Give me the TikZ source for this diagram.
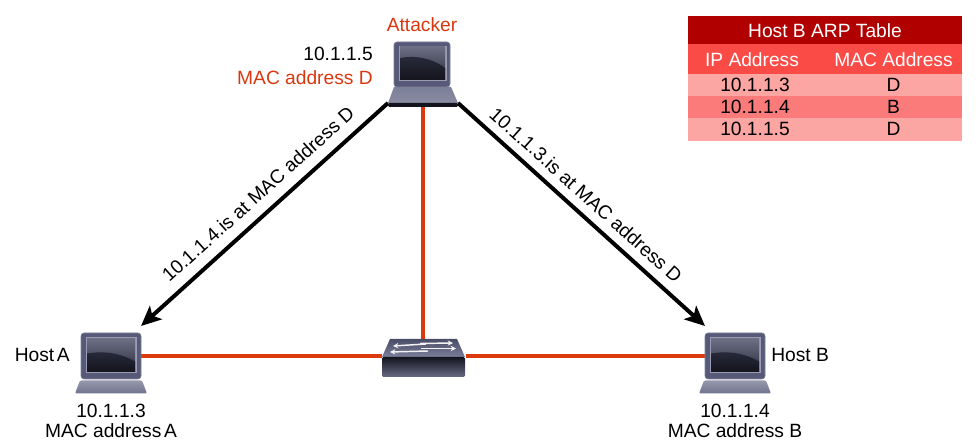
\documentclass[tikz,border=0pt]{standalone}
\usepackage{fontspec}
\setmainfont{Liberation Sans}
\usetikzlibrary{arrows.meta,calc}
\definecolor{wire}{HTML}{DC3A0C}
\definecolor{redtext}{HTML}{D9380F}
\definecolor{devbody}{HTML}{565A78}
\definecolor{devedge}{HTML}{7C7F99}
\definecolor{devlight}{HTML}{9A9CB2}
\definecolor{devdark}{HTML}{14141E}
\definecolor{glasstop}{HTML}{6C6E84}
\definecolor{glassmid}{HTML}{2A2B3C}
\definecolor{rowa}{HTML}{FCA6A3}
\definecolor{rowb}{HTML}{FB7B7B}
\definecolor{rowhead}{HTML}{FA4B46}
\definecolor{rowtitle}{HTML}{B00000}
\tikzset{
  x=0.75pt,y=-0.75pt,
  lbl/.style={font=\fontsize{14.4pt}{16pt}\selectfont,inner sep=0pt,text=black},
  redlbl/.style={lbl,text=redtext},
  devbox/.style 2 args={inner sep=0pt,outer sep=0pt,draw=none,minimum width=#1*0.75pt,minimum height=#2*0.75pt},
  wireline/.style={draw=wire,line width=3pt},
  arpline/.style={draw=black,line width=3pt,-{Stealth[length=15pt,width=13.5pt,inset=3.5pt]}},
  pics/laptop/.style n args={3}{code={
    \fill[devbody,rounded corners=2.2pt,draw=devedge,line width=.4pt] (-30,-23.5) rectangle (30,22.5);
    \fill[devlight] (-25.5,-19) rectangle (25.5,17);
    \shade[top color=glasstop,bottom color=glassmid] (-24,-17.5) rectangle (24,15.5);
    \shade[top color=glassmid,bottom color=devdark] (-24,-3) .. controls (-5,-6) and (10,-3) .. (24,5) -- (24,15.5) -- (-24,15.5) -- cycle;
    \shade[top color=devedge!80!white,bottom color=devbody!85!white,rounded corners=1pt]
      (-#1,24) -- (#1,24) -- (#2,24+#3) -- (-#2,24+#3) -- cycle;
  }},
}
\begin{document}
\begin{tikzpicture}
\useasboundingbox (0,0) rectangle (979,448);
\node[devbox={60}{47}] (hostA) at (111,356.5) {};
\node[devbox={60}{47}] (hostB) at (735,356.5) {};
\node[devbox={70}{65}] (attacker) at (423,74.5) {};
\node[devbox={84}{38}] (switch) at (423.5,358) {};
\draw[wireline] (hostA.east) -- (switch.west |- hostA.east);
\draw[wireline] (switch.east |- hostB.west) -- (hostB.west);
\draw[wireline] (attacker.south) -- (attacker.south |- switch.north);
\coordinate (attL) at ($(attacker.south west)+(0,-4)$);
\coordinate (attR) at ($(attacker.south east)+(0,-4)$);
\coordinate (tipA) at ($(hostA.north east)+(0,-7)$);
\coordinate (tipB) at ($(hostB.north west)+(0,-7)$);
\draw[arpline] (attL) -- (tipA);
\draw[arpline] (attR) -- (tipB);
\node[lbl,rotate=42] (msgA) at (258,194) {10.1.1.4.is at MAC address D};
\node[lbl,rotate=-42] (msgB) at (586,195) {10.1.1.3.is at MAC address D};
\pic at (hostA.center) {laptop={31}{36}{13}};
\pic at (hostB.center) {laptop={31}{36}{13}};
% attacker laptop
\fill[devbody,rounded corners=2.2pt,draw=devedge,line width=.4pt] (394,42) rectangle (450,87);
\fill[devlight] (398.5,46) rectangle (446.5,81);
\shade[top color=glasstop,bottom color=glassmid] (400,47) rectangle (445,80);
\shade[top color=glassmid,bottom color=devdark] (400,58) .. controls (415,55) and (432,58) .. (445,68) -- (445,80) -- (400,80) -- cycle;
\shade[top color=devedge,bottom color=devbody!70!white] (394,87) -- (451,87) -- (458,103) -- (388,103) -- cycle;
\fill[devdark,rounded corners=1pt] (388,103) rectangle (458,107);
% switch
\shade[top color=devbody!85!black,bottom color=devedge] (390,339) -- (457,339) -- (465,357) -- (382,357) -- cycle;
\shade[top color=devdark,bottom color=devbody!90!white,rounded corners=1pt] (382,357) rectangle (465,377);
\begin{scope}[draw=white!90!devedge,line width=1.1pt,-{Stealth[length=4pt,width=4pt]}]
\draw (426,344) -- (393,346);
\draw (420,343.5) -- (453,343);
\draw (428,351) -- (390,352);
\draw (421,348.5) -- (456,348.5);
\end{scope}
% labels
\node[redlbl] (tAtt) at (422,25) {Attacker};
\node[lbl,anchor=east] (tAttIp) at (373,54) {10.1.1.5};
\node[redlbl,anchor=east] (tAttMac) at (373,78) {MAC address D};
\node[lbl,anchor=east] (tHA) at (70,355) {Host\kern-2pt\ A};
\node[lbl] (tAip) at (111,411) {10.1.1.3};
\node[lbl] (tAmac) at (111,431) {MAC address\kern-2pt\ A};
\node[lbl,anchor=west] (tHB) at (771,355) {Host B};
\node[lbl] (tBip) at (735,411) {10.1.1.4};
\node[lbl] (tBmac) at (735,431) {MAC address B};
% table
\fill[rowtitle] (688,16) rectangle (962,44);
\fill[rowhead] (688,44) rectangle (962,74);
\fill[rowa] (688,74) rectangle (962,96);
\fill[rowb] (688,96) rectangle (962,118);
\fill[rowa] (688,118) rectangle (962,141);
\node[lbl,text=white] (tt) at (825,30.5) {Host B ARP Table};
\node[lbl,text=white] (h1) at (752,59.5) {IP Address};
\node[lbl,text=white] (h2) at (893.5,59.5) {MAC Address};
\node[lbl] (c11) at (755,84.5) {10.1.1.3};
\node[lbl] (c12) at (893.5,84.5) {D};
\node[lbl] (c21) at (755,106.5) {10.1.1.4};
\node[lbl] (c22) at (893.5,106.5) {B};
\node[lbl] (c31) at (755,129) {10.1.1.5};
\node[lbl] (c32) at (893.5,129) {D};
\end{tikzpicture}
\end{document}
